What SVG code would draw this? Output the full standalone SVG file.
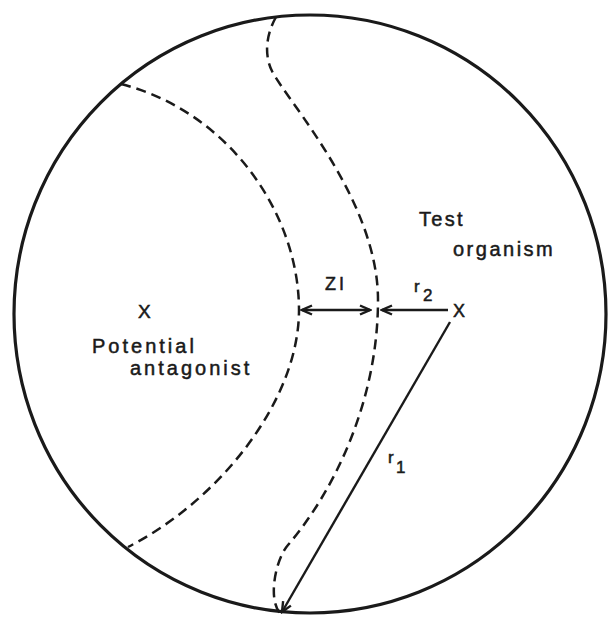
<svg xmlns="http://www.w3.org/2000/svg" width="609" height="621" viewBox="0 0 609 621">
<style>
.t{font-family:"Liberation Sans",Arial,sans-serif;fill:#1a1a1a;stroke:#1a1a1a;stroke-width:0.5;}
.dash{fill:none;stroke:#1a1a1a;stroke-width:2.5;stroke-dasharray:10 6;}
.arr{fill:none;stroke:#1a1a1a;stroke-width:2.4;}
</style>
<defs>
<marker id="ah" markerUnits="userSpaceOnUse" markerWidth="14" markerHeight="14" viewBox="-12 -7 14 14" refX="0" refY="0" orient="auto-start-reverse">
<path d="M-10,-4.5 L0,0 L-10,4.5" fill="none" stroke="#1a1a1a" stroke-width="2.4"/>
</marker>
</defs>
<rect width="609" height="621" fill="#ffffff"/>
<g id="dish">
<ellipse cx="310" cy="314" rx="296" ry="299" fill="none" stroke="#1a1a1a" stroke-width="3.2"/>
</g>
<g id="inner-boundary">
<path class="dash" d="M121,84 C230,112 299,215 299,310 C299,400 220,500 128,547"/>
</g>
<g id="outer-boundary">
<path class="dash" d="M276,17 C266,35 264,55 272,71 C287,101 378,200 378,300 C378,400 335,490 288,545 C275,560 268,600 280,613"/>
</g>
<g id="antagonist">
<text class="t" x="138" y="318" font-size="19">X</text>
<text class="t" x="92" y="353" font-size="20" letter-spacing="3">Potential</text>
<text class="t" x="130" y="375" font-size="20" letter-spacing="3">antagonist</text>
</g>
<g id="test-organism">
<text class="t" x="419" y="226" font-size="20" letter-spacing="2.3">Test</text>
<text class="t" x="453" y="256" font-size="20" letter-spacing="2.5">organism</text>
<text class="t" x="453" y="317" font-size="18">X</text>
</g>
<g id="labels">
<text class="t" x="325" y="290" font-size="18" letter-spacing="3">ZI</text>
<text class="t" x="414" y="292" font-size="17">r</text>
<text class="t" x="423" y="301" font-size="17">2</text>
<text class="t" x="388" y="463" font-size="17">r</text>
<text class="t" x="396" y="473" font-size="17">1</text>
</g>
<g id="connectors">
<line class="arr" x1="302" y1="310" x2="370" y2="310" marker-start="url(#ah)" marker-end="url(#ah)"/>
<line class="arr" x1="448" y1="310" x2="382" y2="310" marker-end="url(#ah)"/>
<line class="arr" x1="450" y1="322" x2="282" y2="612" marker-end="url(#ah)"/>
</g>
</svg>
